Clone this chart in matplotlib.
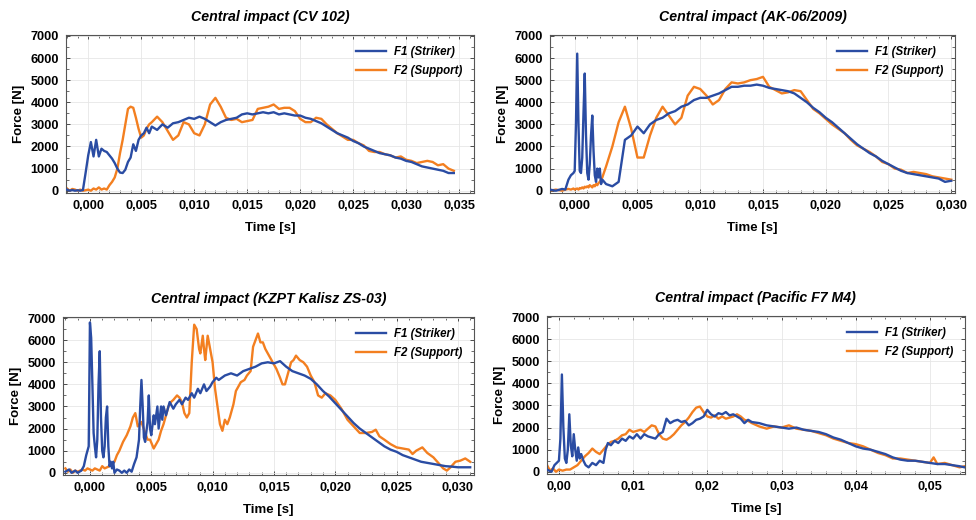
import matplotlib
matplotlib.use("Agg")
import matplotlib.pyplot as plt
from matplotlib.ticker import AutoMinorLocator, FuncFormatter

plt.rcParams["font.family"] = ["Liberation Sans", "DejaVu Sans"]

BLUE = "#2a4ca3"
ORANGE = "#f37f20"

titles = ["Central impact (CV 102)", "Central impact (AK-06/2009)",
          "Central impact (KZPT Kalisz ZS-03)", "Central impact (Pacific F7 M4)"]
series_labels = ["F1 (Striker)", "F2 (Support)"]
y_ticks = [0, 1000, 2000, 3000, 4000, 5000, 6000, 7000]

# --- CV 102 (common time grid) ---
t_cv = [-0.002, -0.00175, -0.0015, -0.00125, -0.001, -0.00075, -0.0005, -0.00025,
        0.0, 0.00025, 0.0005, 0.00075, 0.001, 0.00125, 0.0015, 0.00175, 0.002,
        0.00225, 0.0025, 0.00275, 0.003, 0.00325, 0.0035, 0.00375, 0.004, 0.00425,
        0.0045, 0.00475, 0.005, 0.00525, 0.0055, 0.00575, 0.006,
        0.0065, 0.007, 0.0075, 0.008, 0.0085, 0.009, 0.0095, 0.010, 0.0105, 0.011,
        0.0115, 0.012, 0.0125, 0.013, 0.0135, 0.014, 0.0145, 0.015, 0.0155, 0.016,
        0.0165, 0.017, 0.0175, 0.018, 0.0185, 0.019, 0.0195, 0.020, 0.0205, 0.021,
        0.0215, 0.022, 0.0225, 0.023, 0.0235, 0.024, 0.0245, 0.025, 0.0255, 0.026,
        0.0265, 0.027, 0.0275, 0.028, 0.0285, 0.029, 0.0295, 0.030, 0.0305, 0.031,
        0.0315, 0.032, 0.0325, 0.033, 0.0335, 0.034, 0.0345]
f1_cv = [50, 0, 30, 0, 20, 0, 30, 800,
         1600, 2200, 1550, 2300, 1550, 1900, 1800, 1750, 1600,
         1450, 1250, 1000, 820, 800, 950, 1300, 1500, 2100,
         1800, 2300, 2500, 2600, 2850, 2600, 2900,
         2750, 3000, 2850, 3050, 3100, 3200, 3300, 3250, 3350, 3250,
         3100, 2950, 3100, 3200, 3250, 3300, 3450, 3500, 3450, 3500,
         3550, 3500, 3550, 3450, 3500, 3450, 3400, 3400, 3300, 3250,
         3150, 3050, 2900, 2750, 2600, 2500, 2400, 2250, 2150, 2000,
         1900, 1800, 1700, 1650, 1600, 1500, 1450, 1350, 1300, 1200,
         1100, 1050, 1000, 950, 900, 800, 800]
f2_cv = [100, 0, 80, 50, 0, 50, 0, 20,
         50, 0, 100, 50, 150, 50, 100, 50, 250,
         400, 600, 1000, 1700, 2300, 3000, 3700, 3800, 3750,
         3300, 2800, 2400, 2500, 2800, 3000, 3100,
         3350, 3100, 2700, 2300, 2500, 3100, 3000, 2600, 2500, 3000,
         3900, 4200, 3800, 3300, 3200, 3250, 3100, 3150, 3200, 3700,
         3750, 3800, 3900, 3700, 3750, 3750, 3600, 3250, 3100, 3100,
         3300, 3250, 3000, 2800, 2600, 2450, 2300, 2300, 2150, 2050,
         1800, 1750, 1750, 1650, 1600, 1500, 1550, 1400, 1350, 1250,
         1300, 1350, 1300, 1150, 1200, 1000, 900]

# --- AK-06/2009 (common time grid) ---
t_ak = [-0.002, -0.0015, -0.001, -0.00075, -0.0005, -0.0003, -0.0001, 0.0,
        0.0001, 0.0002, 0.0003, 0.0004, 0.0005, 0.0006, 0.0007, 0.0008, 0.0009,
        0.001, 0.0011, 0.0012, 0.0013, 0.0014, 0.0015, 0.0016, 0.0017, 0.0018,
        0.0019, 0.002, 0.0021, 0.0022, 0.0025,
        0.003, 0.0035, 0.004, 0.0045, 0.005, 0.0055, 0.006, 0.0065, 0.007, 0.0075,
        0.008, 0.0085, 0.009, 0.0095, 0.010, 0.0105, 0.011, 0.0115, 0.012, 0.0125,
        0.013, 0.0135, 0.014, 0.0145, 0.015, 0.0155, 0.016, 0.0165, 0.017, 0.0175,
        0.018, 0.0185, 0.019, 0.0195, 0.020, 0.0205, 0.021, 0.0215, 0.022, 0.0225,
        0.023, 0.0235, 0.024, 0.0245, 0.025, 0.0255, 0.026, 0.0265, 0.027, 0.0275,
        0.028, 0.0285, 0.029, 0.0295, 0.030]
f1_ak = [50, 0, 80, 50, 500, 700, 800, 900,
         3000, 6200, 3000, 900, 800, 1500, 3500, 5300, 2500,
         800, 500, 1200, 2500, 3400, 1800, 700, 400, 1000,
         600, 1000, 300, 500, 300,
         200, 400, 2300, 2500, 2900, 2600, 3000, 3200, 3300, 3500,
         3600, 3800, 3900, 4100, 4200, 4200, 4300, 4400, 4550, 4700,
         4700, 4750, 4750, 4800, 4750, 4650, 4600, 4550, 4500, 4400,
         4200, 4000, 3750, 3550, 3300, 3100, 2850, 2600, 2350, 2100,
         1900, 1700, 1550, 1350, 1200, 1050, 900, 800, 750, 700,
         650, 600, 550, 400, 450]
f2_ak = [0, 50, 0, 50, 80, 50, 100, 50,
         80, 100, 50, 120, 100, 150, 100, 180, 150,
         200, 150, 250, 200, 150, 250, 200, 300, 250,
         350, 400, 500, 600, 1100,
         2000, 3100, 3800, 2800, 1500, 1500, 2500, 3300, 3800, 3400,
         3000, 3300, 4300, 4700, 4600, 4300, 3900, 4100, 4600, 4900,
         4850, 4900, 5000, 5050, 5150, 4700, 4550, 4400, 4450, 4550,
         4500, 4100, 3700, 3500, 3250, 3000, 2800, 2600, 2300, 2050,
         1900, 1750, 1550, 1300, 1200, 1000, 950, 800, 850, 800,
         750, 650, 600, 550, 500]

# --- KZPT Kalisz ZS-03 ---
t1_kz = [-0.002, -0.0017, -0.0015, -0.0012, -0.001, -0.0007, -0.0005, -0.0003,
         -0.0002, -0.0001, 0.0, 0.0001, 0.0002, 0.0003, 0.0004, 0.0005, 0.0006,
         0.0007, 0.0008, 0.0009, 0.001, 0.0011, 0.0012, 0.0013, 0.0014, 0.0015,
         0.0016, 0.0017, 0.0018, 0.0019, 0.002, 0.0022, 0.0024, 0.0026, 0.0028,
         0.003, 0.0032, 0.0034, 0.0036, 0.0038, 0.004, 0.0041, 0.0042, 0.0043,
         0.0044, 0.0045, 0.0047, 0.0048, 0.0049, 0.005, 0.0052, 0.0053, 0.0055,
         0.0056, 0.0058, 0.0059, 0.006, 0.0062, 0.0065, 0.0068, 0.007, 0.0073,
         0.0075, 0.0078, 0.008, 0.0083, 0.0085, 0.0088, 0.009, 0.0093, 0.0095,
         0.0098, 0.010, 0.0103, 0.0105, 0.011, 0.0115, 0.012, 0.0125, 0.013,
         0.0135, 0.014, 0.0145, 0.015, 0.0155, 0.016, 0.0165, 0.017, 0.0175,
         0.018, 0.0185, 0.019, 0.0195, 0.020, 0.0205, 0.021, 0.0215, 0.022,
         0.0225, 0.023, 0.0235, 0.024, 0.0245, 0.025, 0.0255, 0.026, 0.0265,
         0.027, 0.0275, 0.028, 0.0285, 0.029, 0.0295, 0.030, 0.031]
f1_kz = [50, 150, 0, 100, 0, 100, 300, 800,
         1000, 1200, 6800, 6100, 4000, 1800, 1200, 700, 1500,
         4000, 5500, 2500, 1000, 700, 1200, 2500, 3000, 1200,
         300, 500, 200, 500, 0, 150, 100, 0, 100,
         0, 150, 50, 400, 700, 1500, 3000, 4200, 3000,
         1600, 1400, 2300, 3500, 2000, 1700, 2600, 2200, 3000,
         2000, 3000, 2400, 3000, 2600, 3200, 2900, 3100, 3300,
         3100, 3400, 3300, 3600, 3400, 3800, 3600, 4000, 3700,
         3900, 4100, 4300, 4200, 4400, 4500, 4400, 4600, 4700,
         4800, 4950, 5000, 4950, 5050, 4800, 4600, 4500, 4400,
         4250, 4000, 3700, 3450, 3150, 2850, 2550, 2250, 2000,
         1800, 1600, 1400, 1200, 1050, 950, 800, 700, 600,
         500, 450, 400, 350, 300, 280, 250, 250]
t2_kz = [-0.002, -0.0018, -0.0016, -0.0014, -0.0012, -0.001, -0.0008, -0.0006,
         -0.0004, -0.0002, 0.0, 0.0002, 0.0004, 0.0006, 0.0008, 0.001, 0.0012,
         0.0014, 0.0016, 0.0018, 0.002, 0.0022, 0.0024, 0.0027, 0.003, 0.0033,
         0.0035, 0.0037, 0.0039, 0.0042, 0.0045, 0.0047, 0.0049, 0.0052, 0.0054,
         0.0056, 0.0058, 0.006, 0.0062, 0.0064, 0.0066, 0.0068, 0.0071, 0.0073,
         0.0075, 0.0077, 0.0079, 0.0081, 0.0083, 0.0085, 0.0087, 0.0089, 0.009,
         0.0092, 0.0093, 0.0094, 0.0096, 0.0098, 0.010, 0.0102, 0.0104, 0.0106,
         0.0108, 0.011, 0.0112, 0.0114, 0.0117, 0.0119, 0.0121, 0.0123, 0.0126,
         0.0128, 0.0131, 0.0133, 0.0135, 0.0137, 0.0139, 0.0141, 0.0143, 0.0146,
         0.0149, 0.0152, 0.0155, 0.0157, 0.0159, 0.0161, 0.0164, 0.0166, 0.0168,
         0.0171, 0.0174, 0.0177, 0.018, 0.0183, 0.0186, 0.0189, 0.0192, 0.0196,
         0.020, 0.0205, 0.021, 0.0215, 0.022, 0.0225, 0.023, 0.0233, 0.0236,
         0.024, 0.0245, 0.025, 0.0255, 0.026, 0.0263, 0.0266, 0.0271, 0.0275,
         0.028, 0.0284, 0.0288, 0.0291, 0.0294, 0.0298, 0.0302, 0.0306, 0.031]
f2_kz = [200, 50, 150, 0, 100, 50, 100, 150,
         100, 200, 150, 100, 200, 150, 100, 300, 200,
         250, 300, 400, 500, 800, 1000, 1400, 1700, 2100,
         2500, 2700, 2100, 2300, 1800, 1500, 1500, 1100, 1300,
         1500, 1900, 2200, 2600, 3000, 3200, 3300, 3500, 3400,
         3200, 2700, 2500, 2700, 5000, 6700, 6500, 5600, 5400,
         6200, 5600, 5100, 6200, 5600, 5000, 3800, 3000, 2200,
         1900, 2400, 2200, 2500, 3100, 3700, 3900, 4100, 4200,
         4400, 4600, 5700, 6000, 6300, 5900, 5900, 5600, 5300,
         5000, 4700, 4300, 4000, 4000, 4400, 5000, 5100, 5300,
         5100, 5000, 4800, 4400, 4100, 3500, 3400, 3600, 3500,
         3300, 2900, 2400, 2100, 1800, 1800, 1850, 1950, 1650,
         1500, 1300, 1150, 1100, 1050, 850, 1000, 1150, 900,
         700, 450, 200, 100, 250, 500, 550, 650, 500]

# --- Pacific F7 M4 ---
t1_pf = [-0.0016, -0.001, -0.0006, -0.0003, 0.0, 0.0002, 0.0004, 0.0006, 0.0008,
         0.001, 0.0012, 0.0014, 0.0016, 0.0018, 0.002, 0.0022, 0.0024, 0.0026,
         0.0028, 0.003, 0.0033, 0.0036, 0.004, 0.0045, 0.005, 0.0055, 0.006,
         0.0063, 0.0066, 0.007, 0.0075, 0.008, 0.0085, 0.009, 0.0095, 0.010,
         0.0105, 0.011, 0.0115, 0.012, 0.0125, 0.013, 0.0135, 0.014, 0.0145,
         0.015, 0.0155, 0.016, 0.0165, 0.017, 0.0175, 0.018, 0.0185, 0.019,
         0.0195, 0.020, 0.0205, 0.021, 0.0215, 0.022, 0.0225, 0.023, 0.0235,
         0.024, 0.0245, 0.025, 0.0255, 0.026, 0.027, 0.028, 0.029, 0.030, 0.031,
         0.032, 0.033, 0.034, 0.035, 0.036, 0.037, 0.038, 0.039, 0.040, 0.041,
         0.042, 0.043, 0.044, 0.045, 0.046, 0.047, 0.048, 0.049, 0.050, 0.051,
         0.052, 0.053, 0.054, 0.0547]
f1_pf = [100, 0, 300, 400, 500, 1500, 4400, 2000, 600,
         400, 1000, 2600, 1200, 700, 1700, 1000, 500, 1100,
         600, 800, 500, 300, 200, 400, 300, 500, 400,
         1000, 1300, 1200, 1400, 1300, 1500, 1400, 1600, 1500,
         1700, 1500, 1700, 1600, 1550, 1500, 1700, 1800, 2400,
         2200, 2300, 2350, 2250, 2300, 2100, 2200, 2350, 2400,
         2500, 2800, 2600, 2500, 2650, 2600, 2700, 2550, 2600,
         2500, 2400, 2200, 2350, 2250, 2200, 2100, 2050, 2000, 1950,
         2000, 1900, 1850, 1800, 1700, 1550, 1450, 1300, 1150, 1050,
         1000, 900, 800, 650, 550, 500, 500, 450, 400, 350,
         350, 300, 250, 200]
t2_pf = [-0.0016, -0.0012, -0.0008, -0.0004, 0.0, 0.0005, 0.001, 0.0015, 0.002,
         0.0025, 0.003, 0.0035, 0.004, 0.0045, 0.005, 0.0055, 0.006, 0.0065,
         0.007, 0.0075, 0.008, 0.0085, 0.009, 0.0095, 0.010, 0.0105, 0.011,
         0.0115, 0.012, 0.0125, 0.013, 0.0135, 0.014, 0.0145, 0.015, 0.0155,
         0.016, 0.0165, 0.017, 0.0175, 0.018, 0.0185, 0.019, 0.0195, 0.020,
         0.0205, 0.021, 0.0215, 0.022, 0.0225, 0.023, 0.0235, 0.024, 0.0245,
         0.025, 0.0255, 0.026, 0.027, 0.028, 0.029, 0.030, 0.031, 0.032, 0.033,
         0.034, 0.035, 0.036, 0.037, 0.038, 0.039, 0.040, 0.041, 0.042, 0.043,
         0.044, 0.045, 0.046, 0.047, 0.048, 0.049, 0.050, 0.0505, 0.051, 0.052,
         0.053, 0.054, 0.0547]
f2_pf = [300, 50, 150, 0, 100, 50, 100, 100, 200,
         300, 500, 700, 850, 1050, 900, 800, 1000, 1200,
         1350, 1400, 1500, 1650, 1700, 1900, 1800, 1850, 1900,
         1800, 1950, 2100, 2050, 1700, 1500, 1450, 1550, 1700,
         1900, 2100, 2250, 2450, 2700, 2900, 2950, 2700, 2500,
         2450, 2550, 2400, 2500, 2400, 2450, 2500, 2600, 2500,
         2350, 2300, 2200, 2050, 1950, 2050, 2000, 2100, 1950, 1900,
         1850, 1750, 1650, 1500, 1400, 1300, 1250, 1150, 1000, 850,
         750, 600, 600, 550, 500, 450, 400, 650, 350, 400,
         300, 200, 250]

x_ticks_cv = [0.0, 0.005, 0.010, 0.015, 0.020, 0.025, 0.030, 0.035]
x_ticks_ak = [0.0, 0.005, 0.010, 0.015, 0.020, 0.025, 0.030]
x_ticks_kz = [0.0, 0.005, 0.010, 0.015, 0.020, 0.025, 0.030]
x_ticks_pf = [0.0, 0.01, 0.02, 0.03, 0.04, 0.05]

fig = plt.figure(figsize=(9.76, 5.2), dpi=100)
rects = [[0.0676, 0.629, 0.418, 0.304], [0.5635, 0.629, 0.415, 0.304],
         [0.0645, 0.0865, 0.421, 0.304], [0.5605, 0.0885, 0.428, 0.304]]
panels = [
    (t_cv, f1_cv, t_cv, f2_cv, x_ticks_cv, (-0.0021, 0.0364), 3),
    (t_ak, f1_ak, t_ak, f2_ak, x_ticks_ak, (-0.00197, 0.0303), 3),
    (t1_kz, f1_kz, t2_kz, f2_kz, x_ticks_kz, (-0.0022, 0.0313), 3),
    (t1_pf, f1_pf, t2_pf, f2_pf, x_ticks_pf, (-0.0016, 0.0547), 2),
]

for rect, title, p in zip(rects, titles, panels):
    ta, fa, tb, fb, xt, xl, dec = p
    ax = fig.add_axes(rect)
    ax.plot(ta, fa, color=BLUE, lw=1.7, label=series_labels[0], zorder=3)
    ax.plot(tb, fb, color=ORANGE, lw=1.7, label=series_labels[1], zorder=2)
    ax.set_xlim(*xl)
    ax.set_ylim(-100, 7050)
    ax.set_xticks(xt)
    ax.set_yticks(y_ticks)
    ax.xaxis.set_minor_locator(AutoMinorLocator(5))
    ax.yaxis.set_minor_locator(AutoMinorLocator(2))
    ax.xaxis.set_major_formatter(FuncFormatter(
        lambda v, pos, d=dec: f"{v:.{d}f}".replace(".", ",").replace("-0,", "0,")))
    ax.grid(True, which="major", color="#e6e6e6", lw=0.6)
    ax.tick_params(which="both", direction="in", top=True, right=True, color="#333333")
    ax.tick_params(which="major", length=3, width=0.6, labelsize=9.2, pad=5)
    ax.tick_params(which="minor", length=2, width=0.5)
    for lab in ax.get_xticklabels() + ax.get_yticklabels():
        lab.set_fontweight("bold")
    for s in ax.spines.values():
        s.set_color("#555555")
        s.set_linewidth(0.8)
    ax.set_title(title, fontsize=10.2, fontweight="bold", style="italic", pad=10)
    ax.set_xlabel("Time [s]", fontsize=9.5, fontweight="bold", labelpad=7)
    ax.set_ylabel("Force [N]", fontsize=9.5, fontweight="bold", labelpad=4)
    ax.legend(loc="upper right", frameon=False, handlelength=2.6, handletextpad=0.7,
              prop={"size": 8.3, "weight": "bold", "style": "italic"},
              labelspacing=0.55, borderaxespad=0.6)

fig.savefig("out.png", dpi=100)
